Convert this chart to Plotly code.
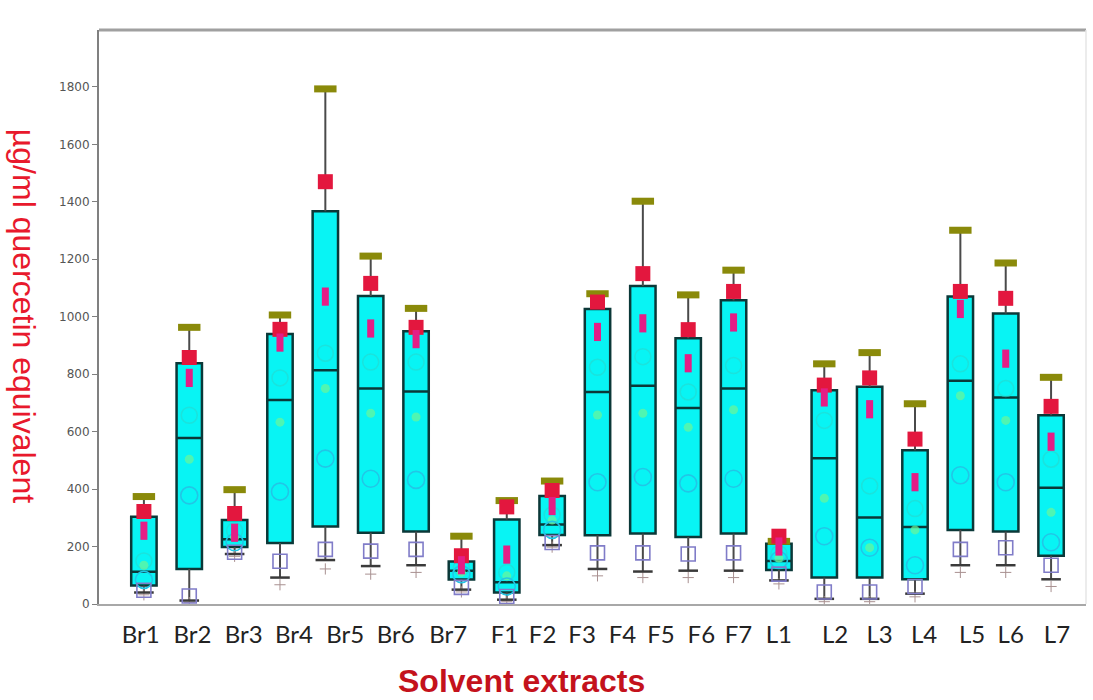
import plotly.graph_objects as go

# Solvent extracts and their quercetin-equivalent summaries (µg/ml)
extracts = ["Br1", "Br2", "Br3", "Br4", "Br5", "Br6", "Br7",
            "F1", "F2", "F3", "F4", "F5", "F6", "F7",
            "L1", "L2", "L3", "L4", "L5", "L6", "L7"]

maximum = [374, 963, 398, 1006, 1793, 1211, 1029, 236, 360, 428, 1080,
           1402, 1076, 1162, 218, 836, 875, 697, 1301, 1187, 789]
upper_mark = [322, 858, 315, 956, 1470, 1116, 963, 168, 338, 395, 1051,
              1150, 955, 1088, 236, 762, 787, 574, 1088, 1064, 688]
q3 = [304, 838, 292, 940, 1367, 1072, 949, 148, 294, 376, 1027,
      1107, 925, 1057, 210, 744, 756, 535, 1070, 1011, 657]
mean = [255, 787, 248, 910, 1070, 959, 922, 135, 172, 341, 947,
        977, 838, 980, 200, 719, 678, 424, 1027, 854, 565]
upper_ci = [150, 657, 255, 787, 873, 842, 842, 128, 110, 310, 824,
            861, 738, 830, 175, 639, 411, 332, 836, 750, 504]
median = [112, 578, 225, 710, 814, 750, 740, 116, 76, 277, 738,
          760, 682, 750, 150, 507, 301, 268, 777, 719, 405]
trimmed = [135, 504, 232, 633, 750, 664, 651, 110, 98, 292, 658,
           664, 615, 676, 160, 368, 196, 258, 725, 639, 319]
lower_ci = [84, 378, 215, 391, 506, 436, 432, 104, 61, 258, 424,
            442, 420, 436, 153, 236, 196, 135, 448, 424, 215]
q1 = [64, 122, 198, 212, 270, 248, 252, 85, 40, 240, 239,
      245, 233, 245, 118, 92, 92, 86, 258, 252, 168]
lower_mark = [48, 28, 180, 149, 190, 184, 190, 58, 26, 214, 178,
              178, 174, 178, 104, 42, 42, 61, 190, 196, 135]
minimum = [40, 12, 174, 92, 153, 132, 135, 50, 15, 205, 122,
           113, 116, 116, 82, 18, 18, 36, 135, 135, 86]
floor_mark = [32, 5, 166, 67, 122, 104, 110, 42, 8, 198, 98,
              92, 92, 92, 70, 8, 8, 25, 110, 110, 61]

y_ticks = [0, 200, 400, 600, 800, 1000, 1200, 1400, 1600, 1800]

# horizontal nudge of each category label relative to its box (in slot units)
label_nudge = [-0.07, 0.07, 0.2, 0.31, 0.44, 0.55, 0.71,
               0.95, 0.79, 0.66, 0.55, 0.40, 0.29, 0.11,
               0.0, 0.24, 0.22, 0.2, 0.26, 0.11, 0.13]

pos = list(range(len(extracts)))


def segments(lo, hi):
    xs, ys = [], []
    for i, a, b in zip(pos, lo, hi):
        xs += [i, i, None]
        ys += [a, b, None]
    return xs, ys


def marks(y, symbol, size, color, width=0):
    return go.Scatter(
        x=pos, y=y, mode="markers", hoverinfo="skip",
        marker=dict(symbol=symbol, size=size, color=color,
                    line=dict(color=color, width=width)),
    )


fig = go.Figure()

# whiskers
ux, uy = segments(q3, maximum)
lx, ly = segments(minimum, q1)
for xs, ys in ((ux, uy), (lx, ly)):
    fig.add_trace(go.Scatter(x=xs, y=ys, mode="lines", hoverinfo="skip",
                             line=dict(color="#4a4a4a", width=2)))

# boxes
fig.add_trace(go.Box(
    x=pos, q1=q1, median=median, q3=q3, lowerfence=q1, upperfence=q3,
    whiskerwidth=0, width=0.56, boxpoints=False,
    fillcolor="#08f4f4", line=dict(color="#0b3838", width=2.5),
))

# faint interior markers
fig.add_trace(marks(upper_ci, "circle-open", 16, "rgba(40,215,205,0.6)", 1.5))
fig.add_trace(marks(trimmed, "circle", 9, "rgba(110,245,150,0.7)"))
fig.add_trace(marks(lower_ci, "circle-open", 17, "#22c6e6", 1.6))

# lower markers
fig.add_trace(marks(floor_mark, "cross-thin-open", 8, "#a89090", 1))
fig.add_trace(marks(minimum, "line-ew-open", 14, "#3a3a3a", 2.5))
fig.add_trace(marks(lower_mark, "square-open", 14, "#807cc8", 1.6))

# upper markers
fig.add_trace(marks(maximum, "line-ew-open", 16, "#8a8a0a", 7))
fig.add_trace(marks(upper_mark, "square", 15, "#e3173e"))
fig.add_trace(marks(mean, "line-ns-open", 13, "#e41e86", 7))

fig.update_layout(
    width=1093, height=700,
    margin=dict(l=99, r=7, t=30, b=96),
    paper_bgcolor="white", plot_bgcolor="white",
    showlegend=False,
    xaxis=dict(
        range=[-0.99, 20.77],
        tickmode="array",
        tickvals=[i + d for i, d in zip(pos, label_nudge)],
        ticktext=extracts,
        showgrid=False, zeroline=False,
        showline=True, linecolor="#a8a8a8", linewidth=2,
        ticks="", ticklabelstandoff=8,
        tickfont=dict(family="Lato, Open Sans, sans-serif", size=24, color="#222222"),
    ),
    yaxis=dict(
        range=[0, 1998],
        tickmode="array", tickvals=y_ticks,
        showgrid=False, zeroline=False,
        showline=True, linecolor="#808080", linewidth=2,
        ticks="outside", ticklen=5, tickcolor="#808080", tickwidth=1,
        tickfont=dict(family="DejaVu Sans", size=12, color="#555555"),
    ),
    shapes=[
        dict(type="line", xref="paper", yref="paper", x0=0, x1=1, y0=1, y1=1,
             line=dict(color="#a0a0a0", width=3)),
        dict(type="line", xref="paper", yref="paper", x0=1, x1=1, y0=0, y1=1,
             line=dict(color="#e6e6e6", width=1.5)),
    ],
    annotations=[
        dict(text="µg/ml quercetin equivalent", xref="paper", yref="paper",
             x=-0.076, y=0.502, textangle=90, showarrow=False,
             xanchor="center", yanchor="middle",
             font=dict(family="Liberation Sans, Arial", size=32, color="#e8192c")),
        dict(text="<b>Solvent extracts</b>", xref="paper", yref="paper",
             x=0.4276, y=-0.134, showarrow=False,
             xanchor="center", yanchor="middle",
             font=dict(family="Liberation Sans, Arial", size=32, color="#c4121c")),
    ],
)

fig.write_html("out.html")
